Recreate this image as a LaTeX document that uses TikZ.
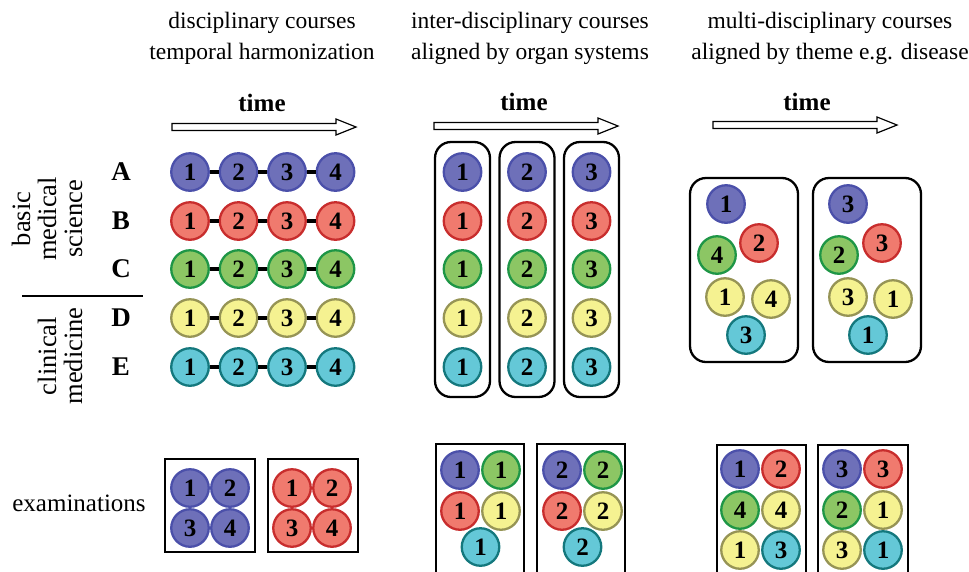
\documentclass[tikz,border=0pt]{standalone}
\usepackage{fontspec}
\setmainfont{Liberation Serif}
\newcommand\titlefont{\fontsize{23.5}{31}\selectfont}
\newcommand\sidefont{\fontsize{26.5}{26}\selectfont}
\newcommand\examfont{\fontsize{25}{25}\selectfont}
\newcommand\rowfont{\fontsize{27}{27}\selectfont\bfseries}
\newcommand\timefont{\fontsize{25}{25}\selectfont\bfseries}
\newcommand\numfont{\fontsize{25}{25}\selectfont\bfseries}
\definecolor{blueF}{RGB}{110,112,185}\definecolor{blueD}{RGB}{75,80,170}
\definecolor{redF}{RGB}{240,122,110}\definecolor{redD}{RGB}{200,45,45}
\definecolor{greenF}{RGB}{140,198,100}\definecolor{greenD}{RGB}{30,150,70}
\definecolor{yellowF}{RGB}{245,242,145}\definecolor{yellowD}{RGB}{150,148,85}
\definecolor{cyanF}{RGB}{100,200,215}\definecolor{cyanD}{RGB}{20,120,125}
\tikzset{
  disc/.style={circle, minimum size=37.5pt, inner sep=0pt, line width=2.3pt, font=\numfont},
  cb/.style={disc, draw=blueD, fill=blueF},
  cr/.style={disc, draw=redD, fill=redF},
  cg/.style={disc, draw=greenD, fill=greenF},
  cy/.style={disc, draw=yellowD, fill=yellowF},
  cc/.style={disc, draw=cyanD, fill=cyanF},
  link/.style={line width=4.5pt, black},
  rbox/.style={draw, line width=2.3pt, rounded corners=16pt, inner sep=0pt},
  sbox/.style={draw, line width=2.5pt, inner sep=0pt},
  title/.style={align=center, font=\titlefont},
  timearrow/.style={draw, line width=1.2pt, fill=white, line join=miter},
}
\begin{document}
\begin{tikzpicture}[x=1pt, y=-1pt]
\clip (0,0) rectangle (969,571);
\fill[white] (0,0) rectangle (969,571);

% column headings
\node[title] (t1) at (262,38) {disciplinary courses\\temporal harmonization};
\node[title] (t2) at (530,38) {inter-disciplinary courses\\aligned by organ systems};
\node[title] (t3) at (830,38) {multi-disciplinary courses\\aligned by theme e.g. disease};

% time arrows
\foreach \n/\xa/\ya in {1/172/127, 2/434/126, 3/713/125} {
  \draw[timearrow] (\xa,\ya-3.5) -- ++(164,0) -- ++(0,-4.5) -- ++(20,8) -- ++(-20,8)
    -- ++(0,-4.5) -- ++(-164,0) -- cycle;
}
\node[font=\timefont] (tm1) at (262,103) {time};
\node[font=\timefont] (tm2) at (524,102) {time};
\node[font=\timefont] (tm3) at (807,102) {time};

% side labels
\node[rotate=90, align=center, font=\sidefont] (bms) at (47,219) {basic\\medical\\science};
\node[rotate=90, align=center, font=\sidefont] (clm) at (60,356) {clinical\\medicine};
\draw[line width=1.3pt] (22,296) -- (143,296);
\node[font=\examfont] (exam) at (79,503) {examinations};

% disciplinary courses: one row per discipline
\foreach \r/\y/\c in {A/172/cb, B/221/cr, C/269/cg, D/318/cy, E/367/cc} {
  \node[font=\rowfont] (lab\r) at (121,\y) {\r};
  \foreach \i/\x in {1/190,2/238.5,3/287,4/335.5}
    \node[\c] (d\r\i) at (\x,\y) {\i};
  \draw[link] (d\r1) -- (d\r2) (d\r2) -- (d\r3) (d\r3) -- (d\r4);
}

% inter-disciplinary courses: organ-system blocks
\foreach \i/\x in {1/462.5, 2/527, 3/591.5} {
  \node[rbox, minimum width=55pt, minimum height=255pt] (ob\i) at (\x,269.5) {};
  \foreach \r/\y/\c in {A/172/cb, B/221/cr, C/269/cg, D/318/cy, E/367/cc}
    \node[\c] (o\r\i) at (\x,\y) {\i};
}

% multi-disciplinary courses: theme blocks
\node[rbox, minimum width=108pt, minimum height=184pt] (mb1) at (744,270) {};
\node[rbox, minimum width=108pt, minimum height=184pt] (mb2) at (867,270) {};
\node[cb] (m1a) at (726,204) {1};
\node[cr] (m1b) at (759,243) {2};
\node[cg] (m1c) at (717,255) {4};
\node[cy] (m1d) at (725,297) {1};
\node[cy] (m1e) at (771,299) {4};
\node[cc] (m1f) at (746,335) {3};
\node[cb] (m2a) at (848,204) {3};
\node[cr] (m2b) at (882,243) {3};
\node[cg] (m2c) at (839,255) {2};
\node[cy] (m2d) at (848,297) {3};
\node[cy] (m2e) at (893,299) {1};
\node[cc] (m2f) at (868,335) {1};

% examinations, disciplinary
\node[sbox, minimum width=90pt, minimum height=93pt] (eb1) at (210,505.5) {};
\node[sbox, minimum width=90pt, minimum height=93pt] (eb2) at (313,505.5) {};
\foreach \i/\x/\y in {1/190/488, 2/230/488, 3/190/528, 4/230/528} {
  \node[cb] (ea\i) at (\x,\y) {\i};
  \node[cr] (eb\i) at (\x+102,\y) {\i};
}

% examinations, inter-disciplinary
\node[sbox, minimum width=88pt, minimum height=146pt] (fb1) at (480,517) {};
\node[sbox, minimum width=88pt, minimum height=146pt] (fb2) at (581,517) {};
\foreach \i/\dx in {1/0, 2/102} {
  \node[cb] (fa\i) at (460+\dx,470) {\i};
  \node[cg] (fc\i) at (501+\dx,470) {\i};
  \node[cr] (fr\i) at (460+\dx,511) {\i};
  \node[cy] (fy\i) at (501+\dx,511) {\i};
  \node[cc] (fe\i) at (480.5+\dx,547) {\i};
}

% examinations, multi-disciplinary
\node[sbox, minimum width=89pt, minimum height=146pt] (gb1) at (761.5,518) {};
\node[sbox, minimum width=90pt, minimum height=146pt] (gb2) at (863,518) {};
\node[cb] (g1a) at (740,469) {1};
\node[cr] (g1b) at (781,469) {2};
\node[cg] (g1c) at (740,510) {4};
\node[cy] (g1d) at (781,510) {4};
\node[cy] (g1e) at (740,550) {1};
\node[cc] (g1f) at (781,550) {3};
\node[cb] (g2a) at (842,469) {3};
\node[cr] (g2b) at (883,469) {3};
\node[cg] (g2c) at (842,510) {2};
\node[cy] (g2d) at (883,510) {1};
\node[cy] (g2e) at (842,550) {3};
\node[cc] (g2f) at (883,550) {1};
\end{tikzpicture}
\end{document}
